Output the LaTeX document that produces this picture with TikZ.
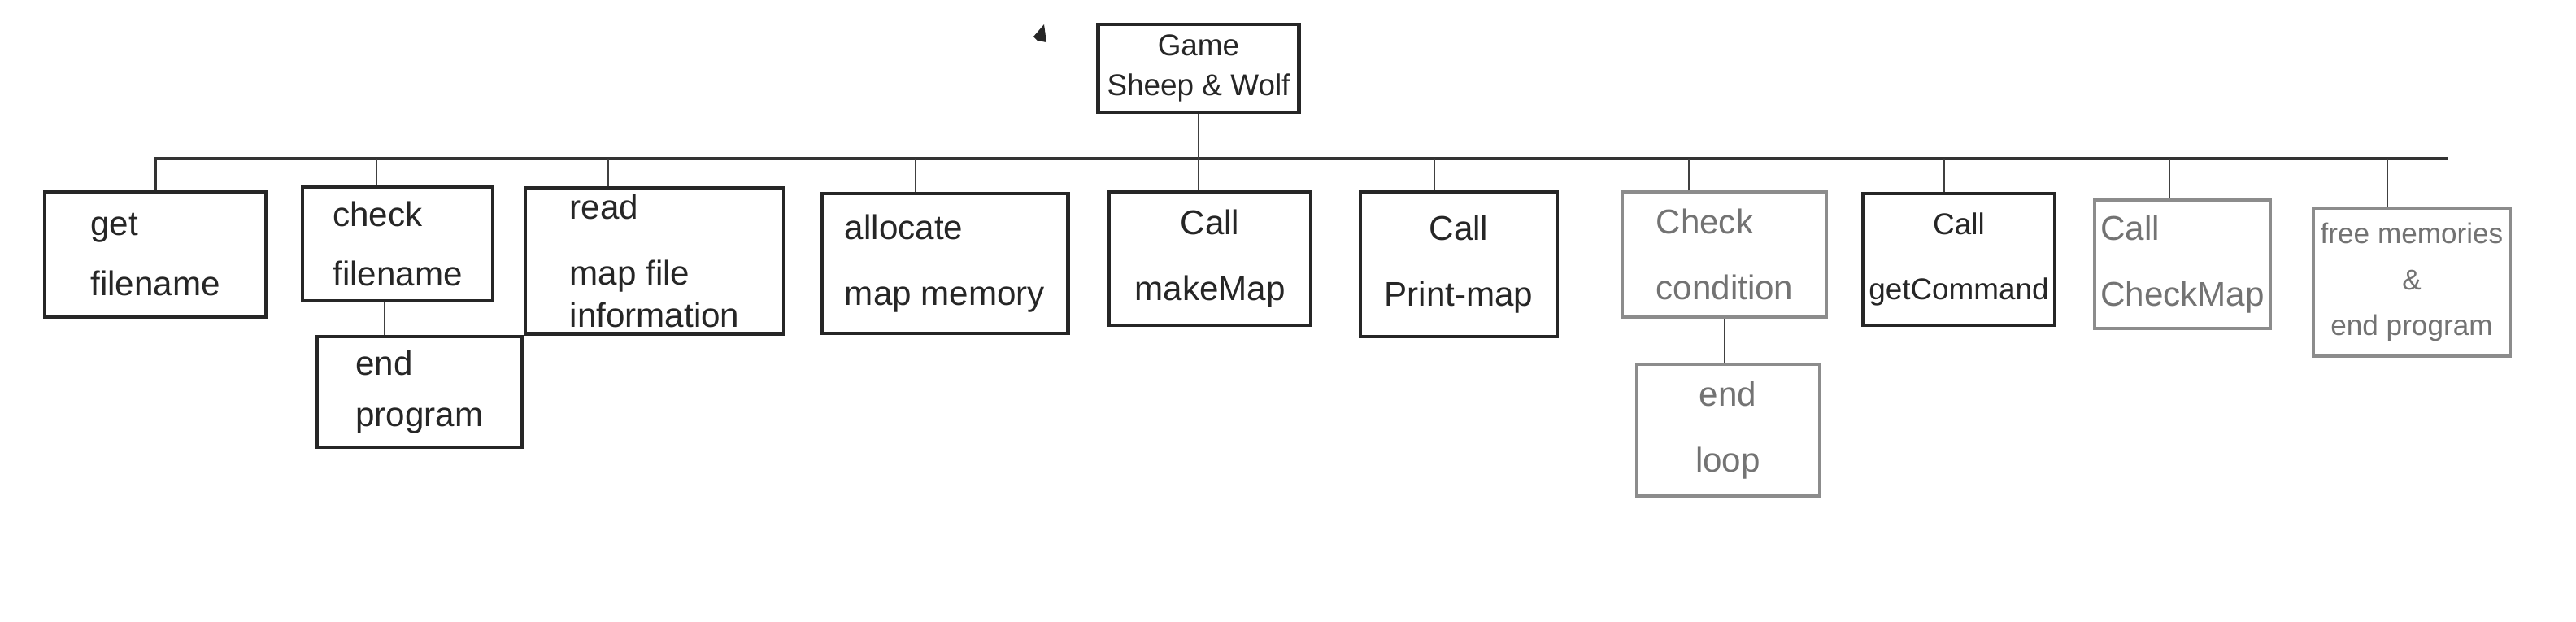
\documentclass[tikz,border=0pt]{standalone}
\usepackage{fontspec}
\setmainfont{Liberation Sans}
\begin{document}
\begin{tikzpicture}[
  fn/.style={draw=black!85, line width=1.3pt, text=black!85, align=center,
    font=\fontsize{12}{15}\selectfont, inner sep=2pt},
  faint/.style={draw=black!45, text=black!55, line width=1pt},
  bus/.style={black!80, line width=1.3pt},
  link/.style={black!75, line width=0.6pt}
]
\useasboundingbox (0,0) rectangle (31.68,-7.64);
% main program
\node[fn, minimum width=2.47cm, minimum height=1.08cm, font=\fontsize{10.5}{14}\selectfont] (game) at (14.74,-0.84) {Game\\Sheep \& Wolf};
\fill[black!85] (12.71,-0.45) -- (12.84,-0.30) -- (12.87,-0.52) -- (12.76,-0.50) -- cycle;
% steps, left to right
\node[fn, align=left, minimum width=2.72cm, minimum height=1.54cm] (getfile) at (1.91,-3.13) {get\\[6pt]filename};
\node[fn, align=left, minimum width=2.34cm, minimum height=1.40cm] (checkfile) at (4.89,-3.00) {check\\[6pt]filename};
\node[fn, align=left, minimum width=2.52cm, minimum height=1.36cm] (endprog) at (5.16,-4.82) {end\\[3pt]program};
\node[fn, align=left, minimum width=3.18cm, minimum height=1.78cm] (readmap) at (8.05,-3.21) {read\\[8pt]map file\\information};
\node[fn, align=left, minimum width=3.03cm, minimum height=1.72cm] (allocmap) at (11.62,-3.24) {allocate\\[8pt]map memory};
\node[fn, minimum width=2.48cm, minimum height=1.64cm] (makemap) at (14.88,-3.18) {Call\\[8pt]makeMap};
\node[fn, minimum width=2.42cm, minimum height=1.78cm] (printmap) at (17.94,-3.25) {Call\\[8pt]Print-map};
\node[fn, faint, align=left, minimum width=2.51cm, minimum height=1.54cm] (checkcond) at (21.21,-3.13) {Check\\[8pt]condition};
\node[fn, faint, minimum width=2.25cm, minimum height=1.62cm] (endloop) at (21.25,-5.29) {end\\[8pt]loop};
\node[fn, minimum width=2.32cm, minimum height=1.62cm, font=\fontsize{10.5}{13}\selectfont] (getcmd) at (24.09,-3.19) {Call\\[10pt]getCommand};
\node[fn, faint, align=left, minimum width=2.16cm, minimum height=1.58cm] (checkmap) at (26.84,-3.25) {Call\\[8pt]CheckMap};
\node[fn, faint, minimum width=2.42cm, minimum height=1.82cm, font=\fontsize{10}{16}\selectfont] (freemem) at (29.66,-3.47) {free memories\\\&\\end program};
% connectors
\coordinate (bushead) at (0,-1.95);
\coordinate (busend) at (30.10,-1.95);
\draw[bus] (getfile.north) |- (busend);
\draw[link] (game.south) -- (game.south |- makemap.north);
\foreach \n/\dx in {checkfile/-0.26,readmap/-0.57,allocmap/-0.36,printmap/-0.30,checkcond/-0.44,getcmd/-0.18,checkmap/-0.16,freemem/-0.30}
  \draw[link] ([xshift=\dx cm]\n.north) -- ([xshift=\dx cm]\n.north |- bushead);
\draw[link] ([xshift=-0.16cm]checkfile.south) -- ([xshift=-0.16cm]checkfile.south |- endprog.north);
\draw[link] (checkcond.south) -- (checkcond.south |- endloop.north);
\end{tikzpicture}
\end{document}
